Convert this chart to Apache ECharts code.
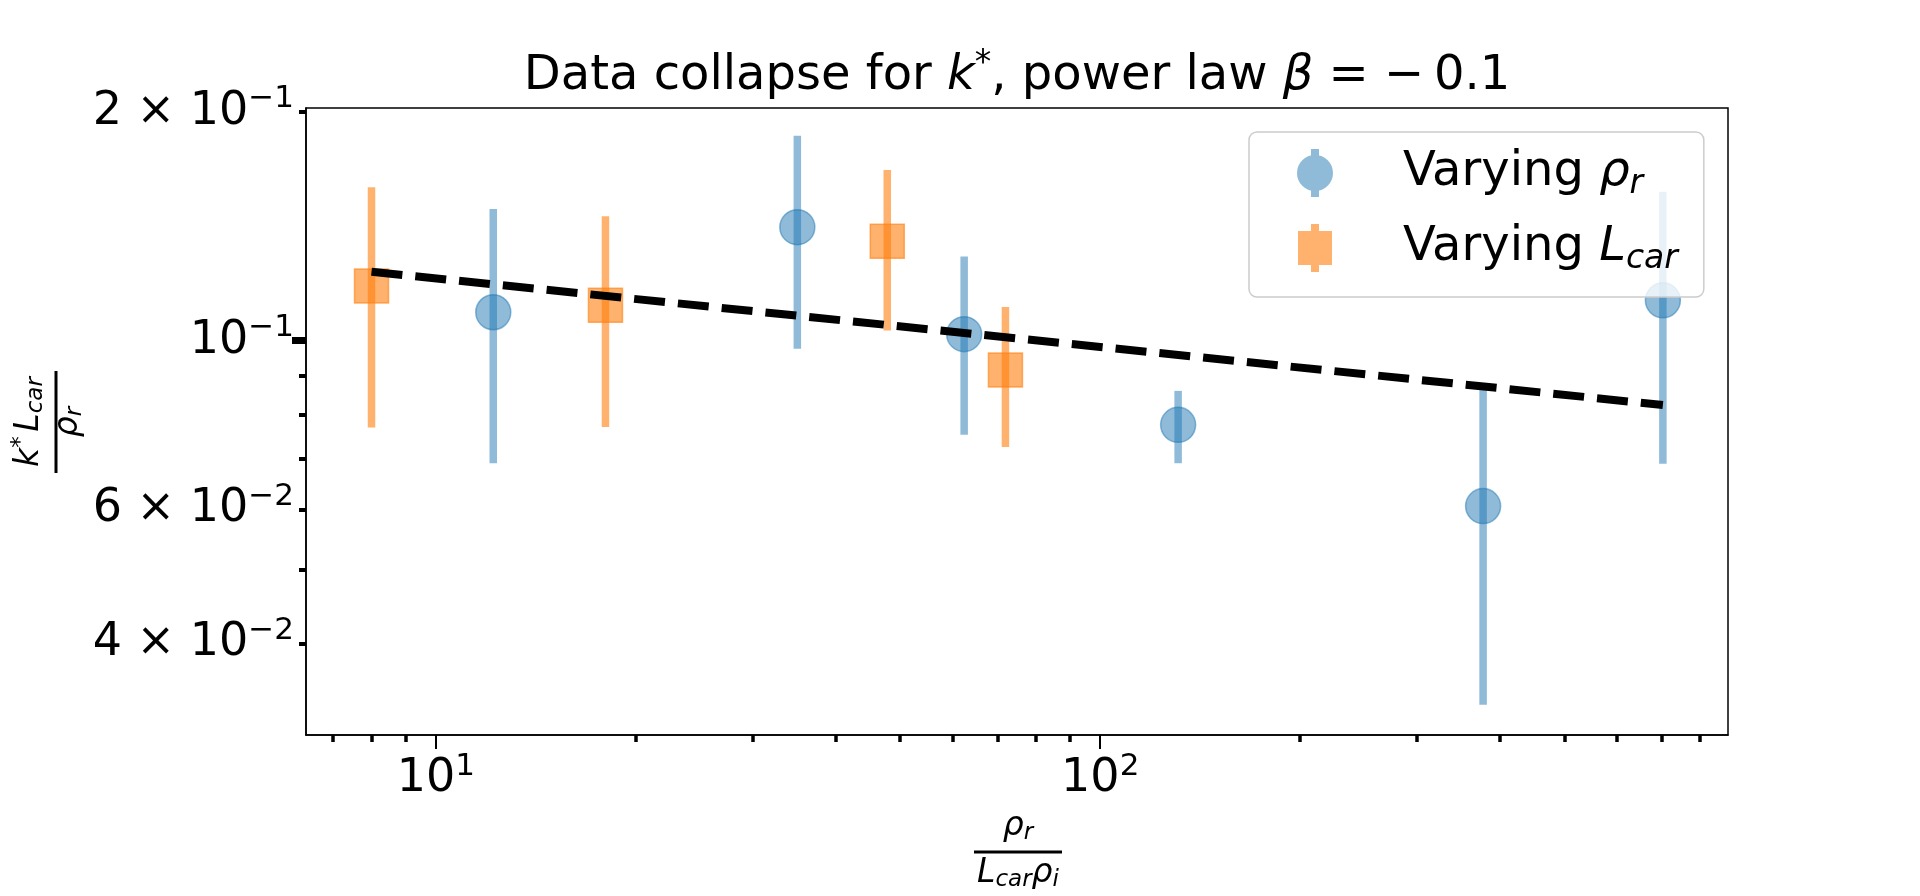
<!DOCTYPE html>
<html>
<head>
<meta charset="utf-8">
<title>Data collapse for k*</title>
<script src="https://cdn.jsdelivr.net/npm/echarts@6/dist/echarts.min.js"></script>
<style>
	html, body { margin: 0; padding: 0; background: #fff; }
	#chart { width: 1920px; height: 896px; }
</style>
</head>
<body>
<div id="chart"></div>
<script>
// Varying rho_r (blue circles)
const blueX = [12.2, 35.0, 62.4, 131, 377, 703]
const blueY = [0.109, 0.141, 0.102, 0.0775, 0.0606, 0.113]
const blueLow = [0.069, 0.0976, 0.0752, 0.069, 0.0332, 0.0689]
const blueHigh = [0.149, 0.186, 0.129, 0.0859, 0.088, 0.157]

// Varying L_car (orange squares)
const orangeX = [8.0, 18.0, 47.8, 72.0]
const orangeY = [0.118, 0.1113, 0.1351, 0.0915]
const orangeLow = [0.0769, 0.077, 0.1031, 0.0725]
const orangeHigh = [0.1591, 0.1458, 0.1677, 0.1107]

// power law fit, beta = -0.1
const fitX = [8, 703]
const fitY = [0.1232, 0.0823]

// axis ticks and labels
const xMajorTicks = [10, 100]
const xMajorLabels = [['10', '1'], ['10', '2']]
const xMinorTicks = [7, 8, 9, 20, 30, 40, 50, 60, 70, 80, 90, 200, 300, 400, 500, 600, 700, 800]
const yLabelTicks = [0.04, 0.06, 0.1, 0.2]
const yLabels = [['4 × 10', '−2'], ['6 × 10', '−2'], ['10', '−1'], ['2 × 10', '−1']]
const yMajorTicks = [0.1]
const yMinorTicks = [0.04, 0.05, 0.06, 0.07, 0.08, 0.09, 0.2]

const FONT = 'DejaVu Sans'
const BLUE = 'rgba(31, 119, 180, 0.5)'
const ORANGE = 'rgba(255, 127, 14, 0.6)'

const node = document.getElementById('chart')
const myChart = echarts.init(node)

const zip = (a, b) => a.map((v, i) => [v, b[i]])
const zip3 = (a, b, c) => a.map((v, i) => [v, b[i], c[i]])

function pickLabel(ticks, labels, value) {
	const i = ticks.findIndex(t => Math.abs(value - t) / t < 1e-6)
	if (i < 0) return ''
	return '{b|' + labels[i][0] + '}{s|' + labels[i][1] + '}'
}

const powRich = {
	b: { fontFamily: FONT, fontSize: 46, lineHeight: 56, color: '#000' },
	s: { fontFamily: FONT, fontSize: 31, lineHeight: 30, verticalAlign: 'top', color: '#000' }
}

function errorBars(color) {
	return function (params, api) {
		const x = api.value(0)
		const lo = api.coord([x, api.value(1)])
		const hi = api.coord([x, api.value(2)])
		const w = 7.5
		return {
			type: 'rect',
			shape: { x: lo[0] - w / 2, y: hi[1], width: w, height: lo[1] - hi[1] },
			style: { fill: color }
		}
	}
}

const fracRich = {
	n: { fontFamily: FONT, fontSize: 33, lineHeight: 38, color: '#000' },
	i: { fontFamily: FONT, fontSize: 33, lineHeight: 38, fontStyle: 'italic', color: '#000' },
	sub: { fontFamily: FONT, fontSize: 23, lineHeight: 24, fontStyle: 'italic', verticalAlign: 'bottom', color: '#000' },
	sup: { fontFamily: FONT, fontSize: 23, lineHeight: 22, verticalAlign: 'top', color: '#000' }
}

function fracText(text, x, y, va) {
	return {
		type: 'text',
		x: x,
		y: y,
		style: {
			text: text,
			rich: fracRich,
			align: 'center',
			textAlign: 'center',
			verticalAlign: va,
			textVerticalAlign: va
		}
	}
}

const option = {
	animation: false,
	backgroundColor: '#fff',
	title: {
		text: '{n|Data collapse for }{i|k}{sup|*}{n|, power law }{i|β}{n| = −\u20090.1}',
		left: 1017,
		top: 48,
		padding: 0,
		textAlign: 'center',
		textStyle: {
			fontWeight: 'normal',
			rich: {
				n: { fontFamily: FONT, fontSize: 48, fontWeight: 'normal', lineHeight: 58, color: '#000' },
				i: { fontFamily: FONT, fontSize: 48, fontWeight: 'normal', lineHeight: 58, fontStyle: 'italic', color: '#000' },
				sup: { fontFamily: FONT, fontSize: 33, fontWeight: 'normal', lineHeight: 31, verticalAlign: 'top', color: '#000' }
			}
		}
	},
	legend: {
		orient: 'vertical',
		left: 1249,
		top: 132,
		padding: [17, 26, 21, 48],
		itemGap: 23,
		itemWidth: 36,
		itemHeight: 48,
		selectedMode: false,
		backgroundColor: 'rgba(255, 255, 255, 0.8)',
		borderColor: '#cccccc',
		borderWidth: 1.5,
		borderRadius: 8,
		data: [
			{
				name: 'Varying ρr',
				icon: 'path://M0,24A18,18,0,1,1,36,24A18,18,0,1,1,0,24ZM14,0L22,0L22,48L14,48Z',
				itemStyle: { color: BLUE, borderWidth: 0, opacity: 1 }
			},
			{
				name: 'Varying Lcar',
				icon: 'path://M1,7L35,7L35,41L1,41ZM14,0L22,0L22,48L14,48Z',
				itemStyle: { color: ORANGE, borderWidth: 0, opacity: 1 }
			}
		],
		formatter: name => name === 'Varying ρr'
			? '{n|Varying }{i|ρ}{sub|r}'
			: '{n|Varying }{i|L}{sub|car}',
		textStyle: {
			padding: [0, 0, 0, 65],
			rich: {
				n: { fontFamily: FONT, fontSize: 48, lineHeight: 56, color: '#000' },
				i: { fontFamily: FONT, fontSize: 48, lineHeight: 56, fontStyle: 'italic', color: '#000' },
				sub: { fontFamily: FONT, fontSize: 33, lineHeight: 35, fontStyle: 'italic', verticalAlign: 'bottom', color: '#000' }
			}
		}
	},
	grid: {
		left: 306,
		right: 192,
		top: 108,
		bottom: 161,
		show: true,
		borderColor: '#000',
		borderWidth: 1.5,
		backgroundColor: 'transparent'
	},
	xAxis: [
		{
			type: 'log',
			logBase: 10,
			min: 6.375,
			max: 881,
			position: 'bottom',
			axisLine: { show: true, lineStyle: { color: '#000', width: 1.5 } },
			axisTick: { customValues: xMajorTicks, length: 14, lineStyle: { color: '#000', width: 2 } },
			axisLabel: {
				customValues: xMajorTicks,
				margin: 16,
				formatter: v => pickLabel(xMajorTicks, xMajorLabels, v),
				rich: powRich
			},
			splitLine: { show: false },
			minorTick: { show: false }
		},
		{
			type: 'log',
			logBase: 10,
			min: 6.375,
			max: 881,
			position: 'bottom',
			axisLine: { show: false },
			axisTick: { customValues: xMinorTicks, length: 7, lineStyle: { color: '#000', width: 3.5 } },
			axisLabel: { show: false },
			splitLine: { show: false }
		}
	],
	yAxis: [
		{
			type: 'log',
			logBase: 10,
			min: 0.0303,
			max: 0.2023,
			position: 'left',
			axisLine: { show: true, lineStyle: { color: '#000', width: 1.5 } },
			axisTick: { customValues: yMajorTicks, length: 14, lineStyle: { color: '#000', width: 7 } },
			axisLabel: {
				customValues: yLabelTicks,
				margin: 12,
				formatter: v => pickLabel(yLabelTicks, yLabels, v),
				rich: powRich
			},
			splitLine: { show: false }
		},
		{
			type: 'log',
			logBase: 10,
			min: 0.0303,
			max: 0.2023,
			position: 'left',
			axisLine: { show: false },
			axisTick: { customValues: yMinorTicks, length: 7, lineStyle: { color: '#000', width: 4 } },
			axisLabel: { show: false },
			splitLine: { show: false }
		}
	],
	series: [
		{
			name: 'fit',
			type: 'line',
			data: zip(fitX, fitY),
			symbol: 'none',
			lineStyle: { color: '#000', width: 8, type: [31, 13] },
			silent: true
		},
		{
			name: 'blueErr',
			type: 'custom',
			data: zip3(blueX, blueLow, blueHigh),
			renderItem: errorBars(BLUE),
			silent: true
		},
		{
			name: 'Varying ρr',
			type: 'scatter',
			data: zip(blueX, blueY),
			symbol: 'circle',
			symbolSize: 35,
			itemStyle: { color: BLUE, borderColor: BLUE, borderWidth: 1.5, opacity: 1 },
			emphasis: { disabled: true }
		},
		{
			name: 'orangeErr',
			type: 'custom',
			data: zip3(orangeX, orangeLow, orangeHigh),
			renderItem: errorBars(ORANGE),
			silent: true
		},
		{
			name: 'Varying Lcar',
			type: 'scatter',
			data: zip(orangeX, orangeY),
			symbol: 'rect',
			symbolSize: 34,
			itemStyle: { color: ORANGE, borderColor: ORANGE, borderWidth: 1.5, opacity: 1 },
			emphasis: { disabled: true }
		}
	],
	graphic: [
		{
			// x axis label: rho_r / (L_car rho_i)
			type: 'group',
			x: 1018,
			y: 852,
			children: [
				{ type: 'rect', shape: { x: -44, y: -1.5, width: 88, height: 3 }, style: { fill: '#000' } },
				fracText('{i|ρ}{sub|r}', 0, -7, 'bottom'),
				fracText('{i|L}{sub|car}{i|ρ}{sub|i}', 0, 2, 'top')
			]
		},
		{
			// y axis label: k* L_car / rho_r
			type: 'group',
			x: 56,
			y: 422,
			rotation: Math.PI / 2,
			children: [
				{ type: 'rect', shape: { x: -51, y: -1.5, width: 102, height: 3 }, style: { fill: '#000' } },
				fracText('{i|k}{sup|*\u2009}{i|L}{sub|car}', 0, -8, 'bottom'),
				fracText('{i|ρ}{sub|r}', 0, -7, 'top')
			]
		}
	]
}

myChart.setOption(option)

window.addEventListener('resize', () => {
	myChart.resize()
})
</script>
</body>
</html>
